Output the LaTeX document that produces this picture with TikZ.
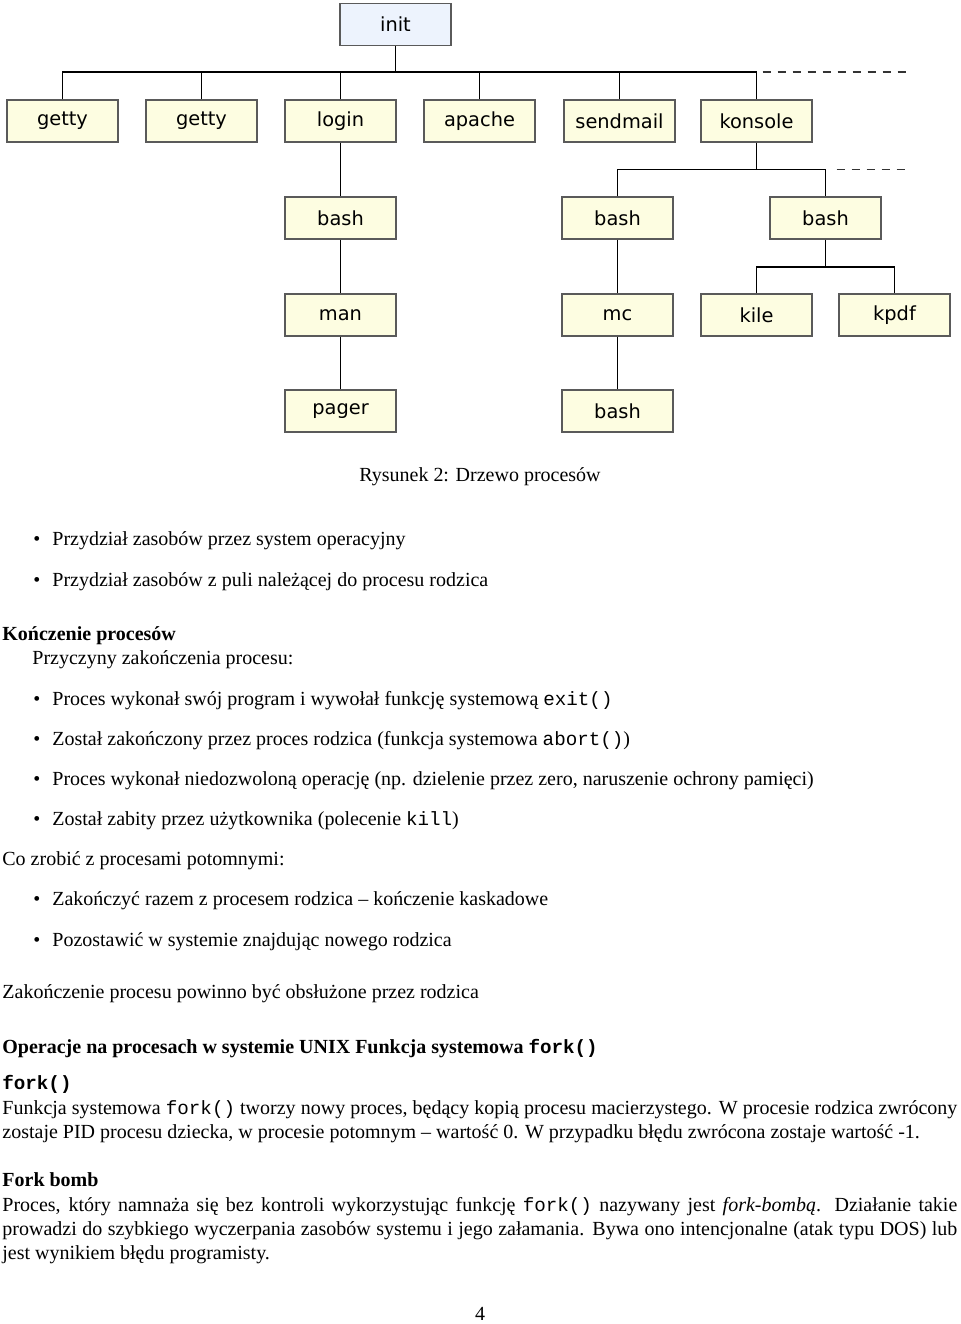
\documentclass[tikz,border=0pt]{standalone}
\usepackage{fontspec}
\setmainfont{Liberation Serif}
\setmonofont{Liberation Mono}
\newfontfamily\treefont{DejaVu Sans}
\definecolor{boxy}{HTML}{FDFDE1}
\definecolor{boxb}{HTML}{EDF3FD}
\definecolor{boxline}{HTML}{5A5A5A}
\newcommand{\tw}[1]{{\fontsize{9.6}{12}\selectfont\ttfamily #1}}
\newcommand{\bul}{\makebox[10pt][l]{\hspace{0.5pt}\textbullet}}
\begin{document}
\begin{tikzpicture}[x=0.5pt,y=-0.5pt,
  proc/.style={draw=boxline, fill=boxy, line width=0.7pt, minimum width=55.5pt,
    minimum height=21pt, inner sep=0pt, font=\treefont\fontsize{9.7}{11}\selectfont},
  edge/.style={line width=0.75pt, black},
  dashline/.style={line width=0.75pt, draw=black!80, dash pattern=on 4pt off 3.5pt},
  txt/.style={inner sep=0pt, anchor=base west, font=\fontsize{10}{12}\selectfont}]
\useasboundingbox (0,0) rectangle (960,1324);
% ---- tree ----
\node[proc, fill=boxb] (init) at (395.5,24.5) {init};
\node[proc] (getty1) at (62.5,121) {getty};
\node[proc] (getty2) at (201.5,121) {getty};
\node[proc] (login) at (340.5,121) {login};
\node[proc] (apache) at (479.5,121) {apache};
\node[proc] (sendmail) at (619.5,121) {sendmail};
\node[proc] (konsole) at (756.5,121) {konsole};
\node[proc] (bash1) at (340.5,218) {bash};
\node[proc] (bash2) at (617.5,218) {bash};
\node[proc] (bash3) at (825.5,218) {bash};
\node[proc] (man) at (340.5,315) {man};
\node[proc] (mc) at (617.5,315) {mc};
\node[proc] (kile) at (756.5,315) {kile};
\node[proc] (kpdf) at (894.5,315) {kpdf};
\node[proc] (pager) at (340.5,411) {pager};
\node[proc] (bash4) at (617.5,411) {bash};

\coordinate (j1) at (395.5,72);
\coordinate (j2) at (756.5,169.5);
\coordinate (j3) at (825.5,267);
\coordinate (d1) at (912,72);
\coordinate (d2) at (910,169.5);

\draw[edge] (init.south) -- (j1);
\draw[edge] (getty1.north) -- (getty1.north |- j1) -- (konsole.north |- j1) -- (konsole.north);
\foreach \n in {getty2,login,apache,sendmail}
  \draw[edge] (\n.north) -- (\n.north |- j1);
\draw[dashline] ([xshift=3pt]konsole.north |- j1) -- (d1);
\draw[edge] (login.south) -- (bash1.north);
\draw[edge] (konsole.south) -- (j2);
\draw[edge] (bash2.north) -- (bash2.north |- j2) -- (bash3.north |- j2) -- (bash3.north);
\draw[dashline] ([xshift=5.5pt]bash3.north |- j2) -- (d2);
\draw[edge] (bash1.south) -- (man.north);
\draw[edge] (bash2.south) -- (mc.north);
\draw[edge] (bash3.south) -- (j3);
\draw[edge] (kile.north) -- (kile.north |- j3) -- (kpdf.north |- j3) -- (kpdf.north);
\draw[edge] (man.south) -- (pager.north);
\draw[edge] (mc.south) -- (bash4.north);

% ---- text ----
\node[txt, anchor=base] (cap) at (480,481) {Rysunek 2: Drzewo procesów};
\node[txt] (l1) at (32,545) {\bul Przydział zasobów przez system operacyjny};
\node[txt] (l2) at (32,586) {\bul Przydział zasobów z puli należącej do procesu rodzica};
\node[txt] (l3) at (2,640) {\bfseries Kończenie procesów};
\node[txt] (l4) at (32,664) {Przyczyny zakończenia procesu:};
\node[txt] (l5) at (32,705) {\bul Proces wykonał swój program i wywołał funkcję systemową \tw{exit()}};
\node[txt] (l6) at (32,745) {\bul Został zakończony przez proces rodzica (funkcja systemowa \tw{abort()})};
\node[txt] (l7) at (32,785) {\bul Proces wykonał niedozwoloną operację (np. dzielenie przez zero, naruszenie ochrony pamięci)};
\node[txt] (l8) at (32,825) {\bul Został zabity przez użytkownika (polecenie \tw{kill})};
\node[txt] (l9) at (2,865) {Co zrobić z procesami potomnymi:};
\node[txt] (l10) at (32,905) {\bul Zakończyć razem z procesem rodzica – kończenie kaskadowe};
\node[txt] (l11) at (32,946) {\bul Pozostawić w systemie znajdując nowego rodzica};
\node[txt] (l12) at (2,998) {Zakończenie procesu powinno być obsłużone przez rodzica};
\node[txt] (l13) at (2,1053) {\bfseries Operacje na procesach w systemie UNIX Funkcja systemowa \tw{fork()}};
\node[txt] (l14) at (2,1089) {\bfseries\tw{fork()}};
\node[txt] (l15) at (2,1114) {\makebox[477.5pt][s]{Funkcja systemowa \tw{fork()} tworzy nowy proces, będący kopią procesu macierzystego. W procesie rodzica zwrócony}};
\node[txt] (l16) at (2,1138) {zostaje PID procesu dziecka, w procesie potomnym – wartość 0. W przypadku błędu zwrócona zostaje wartość -1.};
\node[txt] (l17) at (2,1186) {\bfseries Fork bomb};
\node[txt] (l18) at (2,1211) {\makebox[477.5pt][s]{Proces, który namnaża się bez kontroli wykorzystując funkcję \tw{fork()} nazywany jest \textit{fork-bombą}. Działanie takie}};
\node[txt] (l19) at (2,1235) {\makebox[477.5pt][s]{prowadzi do szybkiego wyczerpania zasobów systemu i jego załamania. Bywa ono intencjonalne (atak typu DOS) lub}};
\node[txt] (l20) at (2,1259) {jest wynikiem błędu programisty.};
\node[txt, anchor=base] (pg) at (480,1320) {4};
\end{tikzpicture}
\end{document}
